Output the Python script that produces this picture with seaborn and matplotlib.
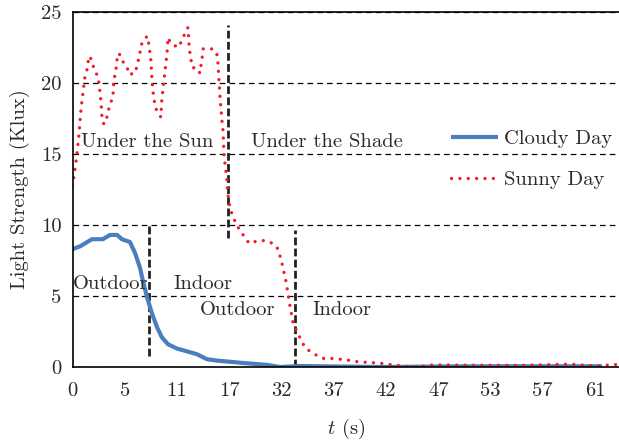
import numpy as np
import pandas as pd
import matplotlib
matplotlib.use("Agg")
import matplotlib.pyplot as plt
import seaborn as sns

# ---------------- data (x = sample index, y = Klux) ----------------
cloudy_x = [0, 1.6, 4.1, 6.4, 7.9, 9.4, 10.4, 12.1, 13.2, 14.2, 14.8, 15.7, 16.7,
            17.8, 18.8, 20.1, 22.0, 24.1, 26.2, 28.3, 30.4, 33.8, 35.3, 40.9,
            43.7, 47.9, 52.1, 64.7, 80.0, 95.0, 111.5]
cloudy_y = [8.3, 8.5, 9.0, 9.0, 9.3, 9.3, 9.0, 8.8, 8.0, 7.0, 6.1, 4.9, 3.8,
            2.8, 2.1, 1.6, 1.3, 1.1, 0.9, 0.55, 0.45, 0.35, 0.3, 0.15,
            0.0, 0.07, 0.05, 0.0, 0.04, 0.05, 0.05]

sunny_x = [0, 0.5, 0.9, 1.4, 1.8, 2.2, 2.6, 3.1, 3.3, 3.7, 4.1, 4.7, 5.4, 5.6,
           6.0, 6.2, 6.6, 7.1, 7.5, 7.9, 8.5, 8.7, 9.2, 9.4, 9.8, 10.4, 11.5,
           11.9, 13.2, 14.0, 14.6, 15.7, 16.1, 16.5, 16.7, 16.9, 17.2, 17.4,
           18.0, 18.6, 18.8, 19.1, 19.5, 19.9, 20.1, 20.7, 22.2, 22.6, 23.3,
           23.9, 24.3, 24.6, 25.2, 26.4, 26.8, 27.3, 27.5, 28.3, 29.6, 30.4,
           30.6, 30.8, 31.1, 31.5, 31.7, 31.9, 32.5, 32.7, 33.2, 33.8, 34.4,
           35.3, 37.2, 39.1, 40.5, 42.2, 43.1, 43.7, 44.1, 44.5, 44.9, 45.4,
           45.6, 46.0, 46.2, 46.6, 47.3, 48.1, 48.9, 50.0, 51.5, 52.9, 54.6,
           56.3, 57.8, 59.0, 61.2, 62.6, 64.1, 66.2, 71.1, 72.5, 75.9, 85.0,
           95.0, 104.7, 108.0, 111.0, 114.0, 115.0]
sunny_y = [12.75, 13.9, 14.9, 16.5, 18.2, 19.3, 20.4, 21.0, 21.5, 21.9, 21.4,
           20.9, 20.4, 19.9, 18.7, 17.6, 17.1, 17.4, 18.0, 18.5, 19.0, 20.1,
           21.1, 21.7, 22.1, 21.6, 21.1, 20.6, 20.7, 21.8, 22.8, 23.3, 22.7,
           21.6, 20.4, 19.5, 18.8, 18.3, 17.9, 17.6, 18.8, 19.7, 20.9, 22.1,
           23.2, 22.8, 22.5, 22.7, 23.2, 23.7, 23.9, 22.4, 21.1, 21.0, 20.7,
           21.8, 22.4, 22.4, 22.4, 22.0, 21.5, 20.4, 18.8, 17.2, 16.6, 14.9,
           13.2, 12.2, 11.1, 10.6, 10.1, 9.6, 8.7, 8.9, 8.9, 8.7, 8.4, 7.8,
           7.3, 6.7, 6.1, 5.1, 4.6, 4.0, 3.4, 2.9, 2.5, 1.9, 1.4, 1.1, 0.8,
           0.6, 0.6, 0.55, 0.5, 0.4, 0.35, 0.3, 0.3, 0.2, 0.0, 0.0, 0.15,
           0.12, 0.12, 0.2, 0.12, 0.08, 0.18, 0.15]

# x tick labels (time in s) at every 11th sample
tick_pos = [0, 11, 22, 33, 44, 55, 66, 77, 88, 99, 110]
tick_labels = ["0", "5", "11", "17", "32", "37", "42", "47", "53", "57", "61"]
minor_tick_pos = [15, 30, 45, 60, 75, 90, 105]

# transition markers (x, y_bottom, y_top)
trans_x = [32.7, 16.1, 46.8]
trans_y0 = [9.1, 0.8, 0.0]
trans_y1 = [24.1, 10.0, 9.65]

# annotations
ann_text = ["Under the Sun", "Under the Shade", "Outdoor", "Indoor", "Outdoor", "Indoor"]
ann_x = [1.8, 37.6, 0.1, 21.2, 26.8, 50.6]
ann_y = [15.85, 15.85, 5.85, 5.85, 4.0, 4.0]

# ---------------- style ----------------
sns.set_style("white")
plt.rcParams["font.family"] = ["cmr10", "DejaVu Serif"]
plt.rcParams["mathtext.fontset"] = "cm"
plt.rcParams["axes.formatter.use_mathtext"] = True

FS = 14.8
BLUE = "#4A7EBF"
RED = "#F21C2A"
TXT = "#2a2a2a"

fig = plt.figure(figsize=(6.19, 4.43), dpi=100)
ax = fig.add_axes([72.5 / 619, 76 / 443, 1 - 72.5 / 619, 355 / 443])

df_c = pd.DataFrame({"x": cloudy_x, "y": cloudy_y})
df_s = pd.DataFrame({"x": sunny_x, "y": sunny_y})

sns.lineplot(data=df_c, x="x", y="y", ax=ax, color=BLUE, linewidth=3.0,
             estimator=None, label="Cloudy Day", solid_capstyle="butt")
sns.lineplot(data=df_s, x="x", y="y", ax=ax, color=RED, linewidth=2.4,
             estimator=None, label="Sunny Day",
             linestyle=(0, (0.01, 2.5)), dash_capstyle="round")

for x, y0, y1 in zip(trans_x, trans_y0, trans_y1):
    ax.plot([x, x], [y0, y1], color="#222222", linewidth=2.0,
            linestyle=(0, (2.8, 1.2)), zorder=1)

for t, x, y in zip(ann_text, ann_x, ann_y):
    ax.text(x, y, t, fontsize=FS, ha="left", va="center", color=TXT)

ax.set_xlim(0, 115.05)
ax.set_ylim(0, 25)
ax.set_yticks([0, 5, 10, 15, 20, 25])
ax.set_yticklabels(["0", "5", "10", "15", "20", "25"])
ax.set_xticks(tick_pos)
ax.set_xticklabels(tick_labels)
ax.set_xticks(minor_tick_pos, minor=True)
ax.tick_params(axis="x", which="major", length=0, pad=11, labelsize=FS, colors=TXT)
ax.tick_params(axis="x", which="minor", direction="in", length=8, width=1.0, color="#444444")
ax.tick_params(axis="y", length=0, pad=8, labelsize=FS, colors=TXT)

ax.yaxis.grid(True, color="black", linewidth=0.9, linestyle=(0, (4.5, 3.3)))
ax.xaxis.grid(False)
ax.set_axisbelow(True)

for s in ["left", "bottom", "top"]:
    ax.spines[s].set_visible(True)
    ax.spines[s].set_color("black")
    ax.spines[s].set_linewidth(1.2)
ax.spines["right"].set_visible(False)

ax.set_xlabel("$t$ (s)", fontsize=FS, color=TXT, labelpad=12)
ax.set_ylabel("Light Strength (Klux)", fontsize=FS, color=TXT, labelpad=8)

leg = ax.legend(loc="center left", bbox_to_anchor=(0.6926, 0.584), frameon=False,
                fontsize=FS, handlelength=2.3, handletextpad=0.3,
                labelspacing=1.1, borderpad=0, borderaxespad=0)
for t in leg.get_texts():
    t.set_color(TXT)

fig.savefig("out.png", dpi=100)
